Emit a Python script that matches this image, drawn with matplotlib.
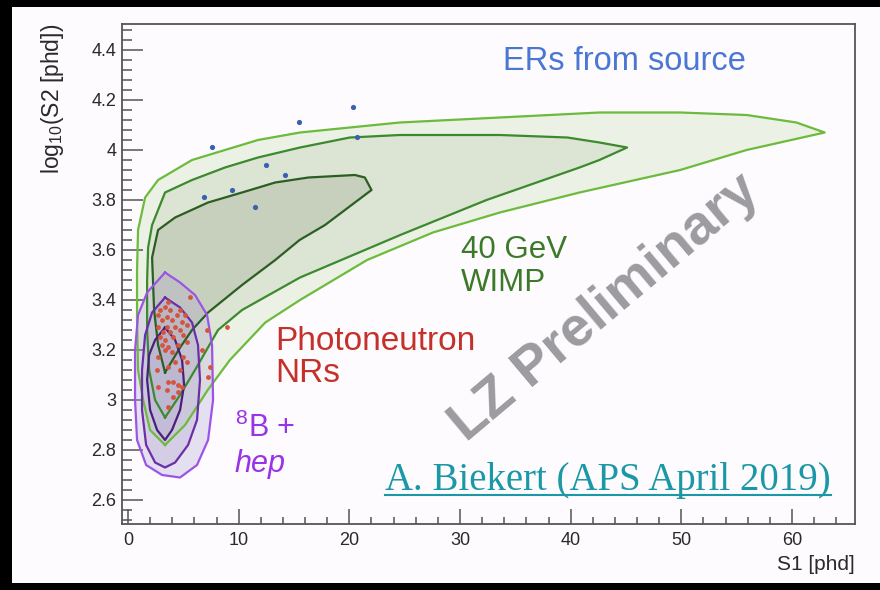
import numpy as np
import matplotlib.pyplot as plt
from matplotlib.patches import Rectangle

plt.rcParams['font.family'] = ['Liberation Sans', 'DejaVu Sans']
plt.rcParams['mathtext.fontset'] = 'custom'
plt.rcParams['mathtext.rm'] = 'Liberation Sans'
plt.rcParams['mathtext.it'] = 'Liberation Sans:italic'
plt.rcParams['mathtext.bf'] = 'Liberation Sans:bold'

# --- 40 GeV WIMP contours (S1 [phd], log10 S2) ---
wimp_outer_s1 = [3.34, 1.99, 1.36, 0.90, 0.81, 0.81, 0.90, 1.54, 2.71, 5.78, 8.76, 11.74,
                 15.54, 20.05, 24.57, 33.6, 42.6, 49.9, 55.9, 60.4, 62.96,
                 55.9, 49.9, 40.8, 33.6, 27.55, 21.6, 15.54, 12.4, 9.2, 7.2, 5.15]
wimp_outer_s2 = [2.82, 2.88, 3.00, 3.12, 3.32, 3.52, 3.68, 3.81, 3.88, 3.96, 4.00, 4.04,
                 4.07, 4.09, 4.11, 4.13, 4.15, 4.15, 4.14, 4.11, 4.07,
                 4.00, 3.92, 3.83, 3.75, 3.67, 3.56, 3.40, 3.31, 3.16, 3.04, 2.90]

wimp_mid_s1 = [3.34, 2.44, 1.90, 1.72, 1.72, 1.81, 2.17, 3.34, 5.78, 8.76, 11.74, 15.54,
               20.05, 24.57, 33.6, 39.7, 42.6, 45.1,
               42.6, 40.8, 32.4, 24.6, 15.54, 10.3, 8.13, 6.05, 4.70]
wimp_mid_s2 = [2.93, 3.00, 3.12, 3.28, 3.48, 3.61, 3.70, 3.83, 3.88, 3.93, 3.97, 4.01,
               4.05, 4.06, 4.06, 4.05, 4.03, 4.01,
               3.96, 3.93, 3.80, 3.66, 3.49, 3.36, 3.28, 3.12, 3.02]

wimp_inner_s1 = [3.34, 2.71, 2.35, 2.17, 2.71, 4.25, 7.23, 10.3, 13.3, 16.3, 20.5, 21.4, 22.0,
                 17.8, 15.5, 13.3, 10.3, 7.23, 5.78, 4.70]
wimp_inner_s2 = [3.11, 3.22, 3.36, 3.57, 3.68, 3.73, 3.79, 3.83, 3.87, 3.89, 3.90, 3.89, 3.84,
                 3.70, 3.64, 3.56, 3.46, 3.35, 3.28, 3.21]

# --- 8B + hep contours ---
b8_outer_s1 = [3.34, 4.70, 6.05, 7.14, 7.59, 7.68, 7.23, 6.23, 4.70, 3.07, 1.63, 0.81,
               0.63, 0.63, 0.90, 1.72]
b8_outer_s2 = [3.51, 3.47, 3.42, 3.34, 3.22, 3.00, 2.84, 2.74, 2.69, 2.70, 2.74, 2.84,
               3.00, 3.20, 3.34, 3.43]

b8_mid_s1 = [3.34, 4.70, 5.78, 6.32, 6.50, 6.23, 5.42, 4.25, 3.34, 2.44, 1.63, 1.26,
             1.26, 1.54, 2.17]
b8_mid_s2 = [3.41, 3.37, 3.31, 3.22, 3.08, 2.92, 2.82, 2.75, 2.73, 2.75, 2.82, 2.96,
             3.12, 3.26, 3.35]

b8_inner_s1 = [3.34, 4.25, 4.88, 5.06, 4.70, 3.97, 3.34, 2.62, 1.99, 1.72, 1.90, 2.44]
b8_inner_s2 = [3.29, 3.24, 3.16, 3.06, 2.96, 2.88, 2.84, 2.88, 2.96, 3.08, 3.18, 3.24]

# --- ER events from source ---
er_s1 = [7.59, 15.45, 20.3, 20.7, 12.5, 14.2, 9.4, 6.87, 11.5]
er_s2 = [4.01, 4.11, 4.17, 4.05, 3.94, 3.90, 3.84, 3.81, 3.77]

# --- photoneutron NR events ---
nr_s1 = [5.60, 3.64, 3.34, 2.89, 3.79, 4.70, 2.74, 3.49, 4.40, 5.15, 3.04, 3.94, 4.85,
         5.30, 2.74, 3.49, 4.25, 3.19, 3.79, 4.70, 2.89, 3.34, 4.09, 5.00, 3.04, 3.64,
         4.55, 5.30, 6.66, 3.34, 3.94, 2.74, 5.00, 5.30, 4.25, 2.59, 3.64, 4.70, 7.26,
         2.74, 3.64, 4.09, 4.55, 4.85, 3.49, 4.55, 4.09, 3.64, 7.11, 8.9, 7.4]
nr_s2 = [3.41, 3.39, 3.37, 3.36, 3.36, 3.36, 3.34, 3.33, 3.34, 3.34, 3.32, 3.32, 3.31,
         3.30, 3.29, 3.29, 3.29, 3.27, 3.27, 3.28, 3.25, 3.24, 3.25, 3.26, 3.22, 3.21,
         3.22, 3.23, 3.20, 3.20, 3.19, 3.17, 3.17, 3.15, 3.15, 3.12, 3.13, 3.12, 3.09,
         3.05, 3.07, 3.07, 3.06, 3.05, 3.04, 3.03, 3.01, 2.97, 3.28, 3.29, 3.13]

y_ticks = [2.6, 2.8, 3.0, 3.2, 3.4, 3.6, 3.8, 4.0, 4.2, 4.4]
x_ticks = [0, 10, 20, 30, 40, 50, 60]

page = '#fdfbfd'
fig = plt.figure(figsize=(8.8, 5.9), dpi=100, facecolor='black')
fig.patches.append(Rectangle((12 / 880, 7 / 590), 868 / 880, 576 / 590,
                             transform=fig.transFigure, facecolor=page,
                             edgecolor='none', zorder=-10))
ax = fig.add_axes([122 / 880, 66 / 590, 733 / 880, 500 / 590])
ax.set_facecolor(page)

# filled WIMP bands
ax.fill(wimp_outer_s1, wimp_outer_s2, color='#ebf2e5', zorder=1)
ax.fill(wimp_mid_s1, wimp_mid_s2, color='#dce4d3', zorder=1)
ax.fill(wimp_inner_s1, wimp_inner_s2, color='#c7d0bc', zorder=1)
# 8B bands, see-through
for xs, ys in [(b8_outer_s1, b8_outer_s2), (b8_mid_s1, b8_mid_s2), (b8_inner_s1, b8_inner_s2)]:
    ax.fill(xs, ys, color='#b0a2d2', alpha=0.3, lw=0, zorder=2)

def closed(xs, ys):
    return list(xs) + [xs[0]], list(ys) + [ys[0]]

lw = 1.6
for xs, ys, c in [(wimp_outer_s1, wimp_outer_s2, '#6cbb3c'),
                  (wimp_mid_s1, wimp_mid_s2, '#3d8a2e'),
                  (wimp_inner_s1, wimp_inner_s2, '#2c5e24')]:
    ax.plot(*closed(xs, ys), color=c, lw=lw, zorder=3)
for xs, ys, c in [(b8_outer_s1, b8_outer_s2, '#9b55e6'),
                  (b8_mid_s1, b8_mid_s2, '#6a2fa8'),
                  (b8_inner_s1, b8_inner_s2, '#4a1f7a')]:
    ax.plot(*closed(xs, ys), color=c, lw=lw, zorder=4)

ax.scatter(er_s1, er_s2, s=14, color='#3a60b0', zorder=5, lw=0)
ax.scatter(nr_s1, nr_s2, s=12, color='#d4553e', zorder=5, lw=0)

ax.set_xlim(-0.55, 65.7)
ax.set_ylim(2.504, 4.504)
ax.set_xticks(x_ticks)
ax.set_xticks(np.arange(0, 66, 2), minor=True)
ax.set_yticks(y_ticks)
ax.set_yticks(np.arange(2.52, 4.5, 0.04), minor=True)
ax.set_yticklabels(['%g' % t for t in y_ticks])

for s in ax.spines.values():
    s.set_color('#555555')
    s.set_linewidth(1.3)
ax.tick_params(which='both', direction='in', top=False, right=False,
               color='#555555', width=1.1, labelcolor='#2a2a2a', labelsize=13)
ax.tick_params(axis='y', which='major', length=15, pad=4)
ax.tick_params(axis='y', which='minor', length=7)
ax.tick_params(axis='x', which='major', length=11, pad=6)
ax.tick_params(axis='x', which='minor', length=5)

ax.text(-0.095, 1.0, r'log$_{10}$(S2 [phd])', rotation=90, ha='center', va='top',
        fontsize=16.5, color='#2a2a2a', transform=ax.transAxes)
ax.text(1.0, -0.062, 'S1 [phd]', ha='right', va='top', fontsize=15,
        color='#2a2a2a', transform=ax.transAxes)

# annotations
ax.text(0.52, 0.924, 'ERs from source', color='#4a76d4', fontsize=23.5,
        ha='left', va='center', transform=ax.transAxes, zorder=6)
ax.text(0.4625, 0.515, '40 GeV\nWIMP', color='#3c7a2a', fontsize=22.5,
        ha='left', va='center', linespacing=1.1, transform=ax.transAxes, zorder=6)
ax.text(0.209, 0.333, 'Photoneutron\nNRs', color='#c4302a', fontsize=24,
        ha='left', va='center', linespacing=1.05, transform=ax.transAxes, zorder=6)
ax.text(0.154, 0.192, r'$^{8}$B +', color='#9933e6', fontsize=22,
        ha='left', va='center', transform=ax.transAxes, zorder=6)
ax.text(0.154, 0.12, 'hep', color='#9933e6', fontsize=22, style='italic',
        ha='left', va='center', transform=ax.transAxes, zorder=6)
ax.text(0.659, 0.432, 'LZ Preliminary', color='#9c9ca0', fontsize=40,
        fontweight='bold', rotation=40, ha='center', va='center',
        rotation_mode='anchor', transform=ax.transAxes, zorder=6)

teal = '#1a98a6'
cite = ax.text(0.359, 0.068, 'A. Biekert (APS April 2019)', color=teal, fontsize=28,
               family=['Liberation Serif', 'DejaVu Serif'], ha='left', va='baseline',
               transform=ax.transAxes, zorder=6)
fig.canvas.draw()
bb = cite.get_window_extent()
inv = ax.transAxes.inverted()
(ux0, _), (ux1, _) = inv.transform([[bb.x0, bb.y0], [bb.x1, bb.y1]])
ax.plot([ux0, ux1], [0.058, 0.058], color=teal, lw=1.5, transform=ax.transAxes,
        clip_on=False, zorder=6)

fig.savefig('out.png', dpi=100, facecolor=fig.get_facecolor())
